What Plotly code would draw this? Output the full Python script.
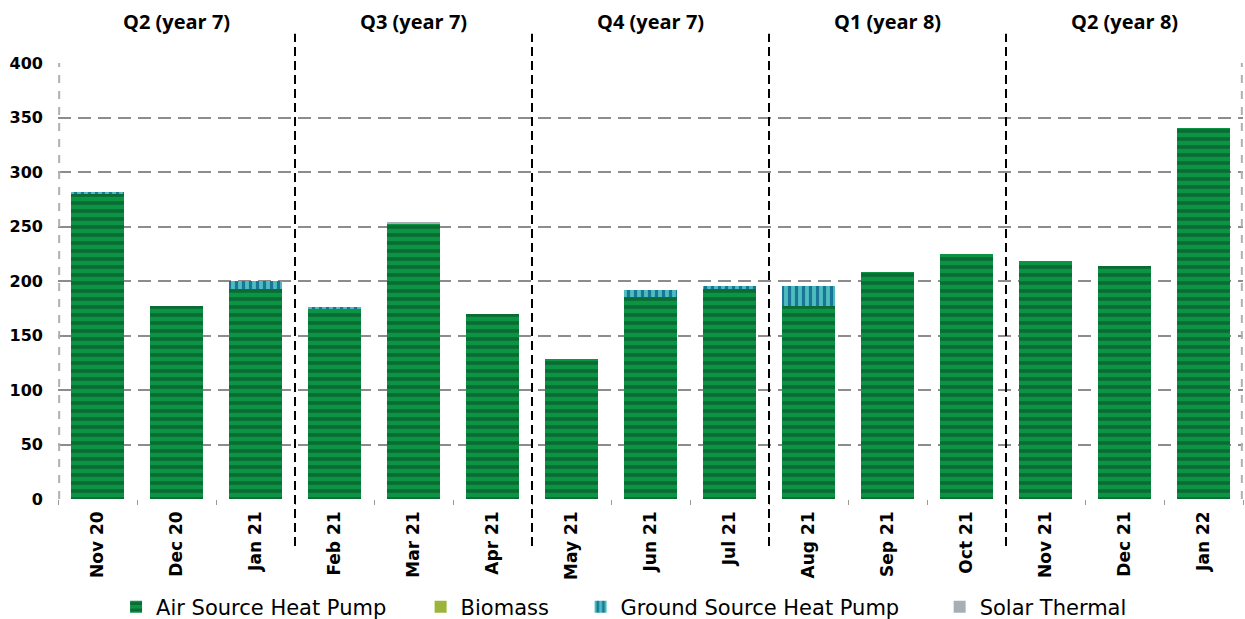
import plotly.graph_objects as go

# monthly installations by technology
months = ["Nov 20", "Dec 20", "Jan 21", "Feb 21", "Mar 21", "Apr 21", "May 21", "Jun 21",
          "Jul 21", "Aug 21", "Sep 21", "Oct 21", "Nov 21", "Dec 21", "Jan 22"]
ashp = [280, 177, 193, 175, 252, 170, 128, 185, 193, 177, 208, 225, 218, 214, 340]
biomass = [0, 0, 0, 0, 0, 0, 0, 0, 0, 0, 0, 0, 0, 0, 0]
gshp = [1, 0, 7, 1, 0, 0, 0, 7, 2, 18, 0, 0, 0, 0, 0]
solar = [0, 0, 0, 0, 2, 0, 0, 0, 0, 0, 0, 0, 0, 0, 0]

quarters = ["Q2 (year 7)", "Q3 (year 7)", "Q4 (year 7)", "Q1 (year 8)", "Q2 (year 8)"]
y_ticks = [0, 50, 100, 150, 200, 250, 300, 350, 400]

fig = go.Figure()

fig.add_trace(go.Bar(
    x=months, y=ashp, name="Air Source Heat Pump", legend="legend2",
    marker=dict(color="#0B9444", line=dict(width=0),
                pattern=dict(shape="-", fgcolor="#0A6B35", bgcolor="#0B9444",
                             size=8, solidity=0.45, fillmode="replace")),
))
fig.add_trace(go.Bar(
    x=months, y=biomass, name="Biomass", legend="legend3",
    marker=dict(color="#9BB53C", line=dict(width=0)),
))
fig.add_trace(go.Bar(
    x=months, y=gshp, name="Ground Source Heat Pump", legend="legend4",
    marker=dict(color="#4DBDBD", line=dict(width=0),
                pattern=dict(shape="|", fgcolor="#1B7598", bgcolor="#4DBDBD",
                             size=7, solidity=0.45, fillmode="replace")),
))
fig.add_trace(go.Bar(
    x=months, y=solar, name="Solar Thermal", legend="legend5",
    marker=dict(color="#A7AFB6", line=dict(width=0)),
))

# quarter separators and labels
for i in range(1, len(quarters)):
    fig.add_shape(type="line", xref="x", yref="paper", x0=3 * i - 0.5, x1=3 * i - 0.5,
                  y0=-0.108, y1=1.067, line=dict(color="black", width=2, dash="9px,5px"))
for i, q in enumerate(quarters):
    fig.add_annotation(x=3 * i + 1, y=1.096, xref="x", yref="paper", text=q,
                       showarrow=False, yanchor="middle",
                       font=dict(family="Open Sans", size=20, color="black", weight="bold"))

# dashed plot border, left and right
for xb in [0.001, 0.999]:
    fig.add_shape(type="line", xref="paper", yref="paper", x0=xb, x1=xb, y0=0, y1=1,
                  line=dict(color="#B0B0B0", width=2, dash="8px,8px"))

legend_style = dict(orientation="h", yanchor="middle", y=-0.248, xanchor="left",
                    font=dict(family="DejaVu Sans", size=21, color="black"),
                    bgcolor="rgba(0,0,0,0)", itemwidth=30)

fig.update_layout(
    barmode="stack",
    bargap=0.32,
    width=1245,
    height=619,
    margin=dict(l=58, r=2, t=63, b=120, autoexpand=False),
    plot_bgcolor="white",
    paper_bgcolor="white",
    font=dict(family="DejaVu Sans", color="black"),
    legend2=dict(legend_style, x=0.049),
    legend3=dict(legend_style, x=0.306),
    legend4=dict(legend_style, x=0.441),
    legend5=dict(legend_style, x=0.744),
    xaxis=dict(
        tickangle=-90,
        tickfont=dict(family="DejaVu Sans", size=17, color="black", weight="bold"),
        showgrid=False,
        ticks="outside", tickson="boundaries", ticklen=5, tickcolor="#999999",
        ticklabelstandoff=8,
        showline=False,
    ),
    yaxis=dict(
        range=[0, 400],
        tickvals=y_ticks,
        tickfont=dict(family="DejaVu Sans", size=16, color="black", weight="bold"),
        showgrid=True, gridcolor="#8C8C8C", gridwidth=2, griddash="13px,7px",
        zeroline=False, showline=False,
        ticks="", ticklabelstandoff=14,
    ),
)

fig.write_html("out.html", config={"displayModeBar": False},
               post_script="document.body.style.margin = '0';")
